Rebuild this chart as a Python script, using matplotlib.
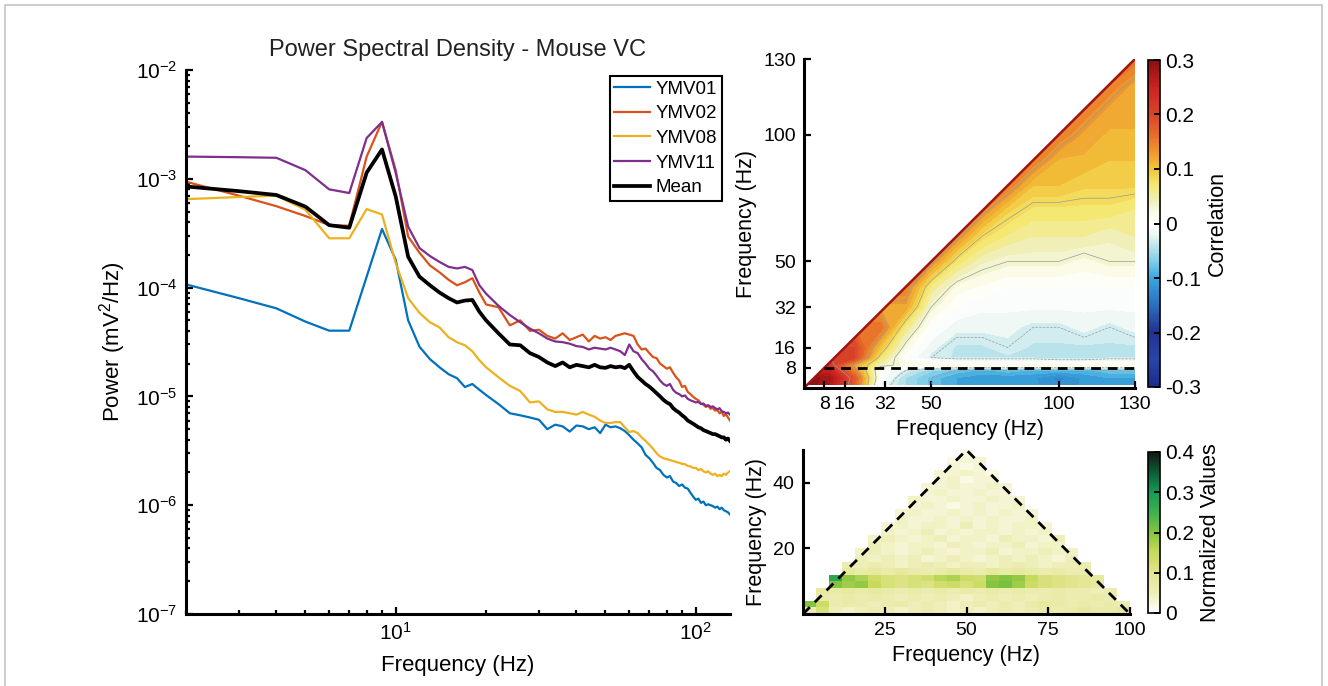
import numpy as np
import matplotlib
matplotlib.use("Agg")
import matplotlib.pyplot as plt
from matplotlib.colors import LinearSegmentedColormap, Normalize
from matplotlib.cm import ScalarMappable
from matplotlib.patches import Polygon, Rectangle

plt.rcParams['font.family'] = ['Liberation Sans', 'DejaVu Sans']
plt.rcParams['mathtext.fontset'] = 'custom'
plt.rcParams['mathtext.rm'] = 'Liberation Sans'
plt.rcParams['mathtext.it'] = 'Liberation Sans:italic'
plt.rcParams['mathtext.default'] = 'regular'
plt.rcParams['axes.unicode_minus'] = False

# ---- PSD data, power in 1e-6 mV^2/Hz ----
freq = list(range(2, 21)) + list(range(22, 131, 2))
ymv01 = [107, 80, 64.5, 48.7, 40.2, 40.2, 126, 346, 180, 50, 28.6, 22, 18.5, 16, 14.7, 12.2, 13, 11.5, 10.3,
         8.5, 7.0, 6.7, 6.4, 6.1, 5.0, 5.5, 5.3, 4.75, 5.4,
         5.3, 5.0, 5.2, 4.6, 5.5, 5.2, 5.3, 5.1, 4.8, 4.4,
         4.0, 3.7, 3.4, 2.9, 2.7, 2.45, 2.2, 2.1, 1.9, 1.8,
         1.85, 1.65, 1.6, 1.5, 1.55, 1.45, 1.42, 1.3, 1.2, 1.12,
         1.15, 1.05, 1.08, 1.0, 1.02, 1.0, 0.98, 0.95, 0.97, 0.92,
         0.95, 0.9, 0.88, 0.86, 0.82]
ymv02 = [940, 700, 560, 455, 376, 370, 1600, 3340, 1200, 294, 209, 160, 138, 118, 105, 112, 122, 90, 70,
         66, 45, 50, 40, 41, 36, 34, 38, 33, 35,
         37, 32, 36, 34, 35, 33, 36, 37, 38, 37,
         36, 30, 27, 27.5, 25, 23, 22.5, 20, 19, 18,
         18.5, 16.5, 15, 14, 12.2, 12.5, 11, 10.5, 9.9, 9.5,
         9.2, 8.6, 8.4, 8.0, 8.2, 7.7, 7.8, 7.4, 7.5, 7.0,
         7.2, 6.6, 6.9, 6.4, 6.0]
ymv08 = [650, 680, 700, 520, 284, 284, 527, 470, 168, 80, 58.5, 48, 43, 35, 31.5, 29.5, 26, 21.5, 18.5,
         15, 12.5, 11.2, 8.8, 9.0, 7.6, 7.2, 7.2, 7.0, 6.8,
         7.2, 6.8, 6.5, 6.0, 5.7, 5.7, 5.8, 5.8, 5.2, 4.7,
         4.8, 4.6, 4.2, 3.9, 3.6, 3.3, 3.0, 2.8, 2.7, 2.65,
         2.6, 2.55, 2.5, 2.45, 2.4, 2.38, 2.3, 2.27, 2.2, 2.2,
         2.1, 2.15, 2.05, 2.0, 2.05, 1.95, 1.9, 1.95, 1.85, 1.9,
         1.85, 1.95, 1.9, 2.0, 2.05]
ymv11 = [1600, 1580, 1560, 1200, 800, 740, 2370, 3330, 1130, 363, 231, 195, 172, 155, 150, 155, 145, 105, 88,
         68, 56, 48, 42, 38, 34, 32, 31.5, 30.5, 29,
         28.5, 27, 28, 27.5, 27, 28, 27, 26, 24, 30,
         26, 25, 22, 20, 18, 17, 15.5, 14, 13, 12.5,
         13, 11.5, 10.8, 10.5, 10, 10.2, 9.5, 9.2, 9.0, 8.8,
         8.9, 8.5, 8.6, 8.2, 8.3, 8.0, 8.1, 7.8, 7.6, 7.8,
         7.3, 7.2, 7.0, 7.1, 6.8]
mean_psd = [850, 770, 710, 555, 375, 355, 1140, 1860, 686, 192, 126, 105, 90, 80, 73, 76, 77, 60, 50,
            38, 30, 29.5, 25, 23, 20.5, 19, 20.5, 18.5, 19.5,
            19, 18.5, 19.5, 18.5, 18.3, 19, 18.5, 18.8, 18.2, 19.5,
            17, 15.1, 14, 13, 12.3, 11.5, 10.7, 10, 9.3, 8.8,
            8.5, 7.8, 7.4, 7.1, 6.7, 6.4, 6.0, 5.8, 5.6, 5.4,
            5.2, 5.1, 4.9, 4.8, 4.7, 4.6, 4.5, 4.5, 4.4, 4.3,
            4.2, 4.2, 4.0, 4.1, 3.9]
series_names = ['YMV01', 'YMV02', 'YMV08', 'YMV11', 'Mean']

# ---- cross-frequency correlation (hundredths), '.' = above diagonal ----
corr_x = [0, 10, 20, 30, 40, 50, 60, 70, 80, 90, 100, 110, 120, 130]
corr_y = [0, 4, 7, 9, 12, 16, 24, 32, 40, 50, 60, 70, 80, 90, 100, 110, 120, 130]
corr_rows = [
    "30 27 17 -2 -5 -8 -10 -11 -10 -11 -12 -11 -10 -10",
    "30 28 18 0 -5 -8 -10 -11 -11 -11 -13 -11 -10 -10",
    ". 25 14 0 -3 -6 -8 -9 -8 -9 -9 -9 -8 -8",
    ". 22 12 4 2 2 2 2 2 2 2 2 2 2",
    ". . 20 7 0 -3 -4 -4 -4 -4 -5 -5 -4 -4",
    ". . 20 10 2 -2 -4 -4 -3 -4 -4 -4 -4 -4",
    ". . . 16 6 0 -2 -2 -2 -3 -3 -2 -3 -2",
    ". . . . 12 3 0 -1 -1 -1 -1 -1 -1 -1",
    ". . . . 15 6 2 1 0 0 0 0 0 0",
    ". . . . . 14 7 4 3 3 3 2 3 3",
    ". . . . . . 14 8 6 5 5 5 4 5",
    ". . . . . . . 14 9 7 7 7 7 6",
    ". . . . . . . . 15 10 10 9 9 9",
    ". . . . . . . . . 15 11 11 10 10",
    ". . . . . . . . . . 15 12 11 11",
    ". . . . . . . . . . . 15 12 12",
    ". . . . . . . . . . . . 15 12",
    ". . . . . . . . . . . . . 16",
]
corr_lo, corr_hi = 1, 130
corr_ticks = [8, 16, 32, 50, 100, 130]
band_edge = 8

# ---- normalized values (hundredths), 4 Hz x 2 Hz cells, '.' = empty ----
norm_x_edges = list(range(0, 101, 4))
norm_y_edges = list(range(0, 51, 2))
norm_rows = [
    "6 12 5 4 5 6 5 4 5 6 5 4 5 4 5 6 5 6 7 6 7 8 7 7 8",
    "20 14 6 7 6 5 6 7 5 6 5 4 5 6 5 6 5 7 8 7 6 7 6 7 6",
    ". 7 6 7 6 7 6 5 6 5 6 5 4 5 6 5 6 5 6 7 6 6 7 6 .",
    ". 8 7 8 7 8 7 6 7 6 7 6 7 6 7 6 7 6 6 7 6 6 5 6 .",
    ". . 20 18 19 15 12 11 12 11 13 14 12 14 20 21 18 14 12 11 10 9 8 . .",
    ". . 27 19 17 14 12 11 12 13 16 17 14 13 19 20 19 15 12 11 10 9 8 . .",
    ". . . 8 7 8 7 8 7 6 7 8 7 6 8 7 8 7 6 7 6 6 . . .",
    ". . . 6 5 6 5 4 5 6 5 4 5 5 4 5 6 5 4 5 5 6 . . .",
    ". . . . 5 4 5 4 5 3 4 5 4 3 4 5 4 5 4 3 5 . . . .",
    ". . . . 4 5 4 3 4 5 4 3 4 4 5 3 4 4 5 4 4 . . . .",
    ". . . . . 5 4 3 4 4 3 5 4 3 4 4 5 3 4 4 . . . . .",
    ". . . . . 4 5 4 3 4 5 3 4 4 3 5 4 4 3 5 . . . . .",
    ". . . . . . 4 3 4 5 3 4 3 4 4 3 4 3 4 . . . . . .",
    ". . . . . . 3 4 3 4 4 3 5 3 4 3 4 4 3 . . . . . .",
    ". . . . . . . 4 3 3 4 3 4 3 4 3 3 4 . . . . . . .",
    ". . . . . . . 3 4 3 3 4 3 4 3 4 3 3 . . . . . . .",
    ". . . . . . . . 3 4 3 2 3 4 3 3 4 . . . . . . . .",
    ". . . . . . . . 4 3 3 4 3 3 4 3 3 . . . . . . . .",
    ". . . . . . . . . 3 4 3 3 4 3 3 . . . . . . . . .",
    ". . . . . . . . . 3 3 4 3 3 4 3 . . . . . . . . .",
    ". . . . . . . . . . 3 4 2 3 3 . . . . . . . . . .",
    ". . . . . . . . . . 3 3 4 3 2 . . . . . . . . . .",
    ". . . . . . . . . . . 3 2 3 . . . . . . . . . . .",
    ". . . . . . . . . . . 2 3 3 . . . . . . . . . . .",
    ". . . . . . . . . . . . 2 . . . . . . . . . . . .",
]
norm_outline_x = [0, 50, 100]
norm_outline_y = [0, 50, 0]


def parse(rows):
    return np.array([[np.nan if t == '.' else float(t) for t in r.split()] for r in rows]) / 100


corr = parse(corr_rows)
for row in corr:
    first = row[~np.isnan(row)][0]
    row[np.isnan(row)] = first
norm_vals = np.ma.masked_invalid(parse(norm_rows))

corr_cmap = LinearSegmentedColormap.from_list('corr', [
    (0.000, '#1c2a8c'), (0.083, '#2645a8'), (0.167, '#23318f'), (0.250, '#2b6fc0'),
    (0.333, '#3aa6dc'), (0.383, '#7fcde8'), (0.433, '#bfe6ea'), (0.467, '#eef7f5'),
    (0.500, '#ffffff'), (0.533, '#fbfbe8'), (0.567, '#eef0c0'), (0.617, '#f5e870'),
    (0.667, '#f2c53a'), (0.717, '#ee9a2e'), (0.767, '#e8702a'), (0.833, '#d9462a'),
    (0.917, '#cc2222'), (1.000, '#8a1010')])
green_cmap = LinearSegmentedColormap.from_list('greens', [
    (0.0, '#ffffff'), (0.125, '#eeeeb8'), (0.25, '#e2e58e'), (0.375, '#c6da5a'),
    (0.5, '#86c43f'), (0.625, '#3db24f'), (0.75, '#159a55'), (0.875, '#0d5c38'),
    (1.0, '#111a14')])

W, H = 1328, 686
fig = plt.figure(figsize=(W / 100, H / 100), dpi=100)


def px_axes(x0, y0, x1, y1):
    return fig.add_axes([x0 / W, 1 - y1 / H, (x1 - x0) / W, (y1 - y0) / H])


def matlab_style(ax, size):
    for s in ['top', 'right']:
        ax.spines[s].set_visible(False)
    for s in ['left', 'bottom']:
        ax.spines[s].set_linewidth(2.2)
    ax.tick_params(which='both', direction='in', width=1.6, labelsize=size, pad=6)
    ax.tick_params(which='major', length=5)
    ax.tick_params(which='minor', length=3)


# ---- PSD panel ----
ax1 = px_axes(186, 70, 730, 614)
colors = ['#0072BD', '#D95319', '#EDB120', '#7E2F8E', 'black']
widths = [1.6, 1.6, 1.6, 1.6, 2.7]
for vals, name, c, lw in zip([ymv01, ymv02, ymv08, ymv11, mean_psd], series_names, colors, widths):
    ax1.plot(freq, np.array(vals) * 1e-6, color=c, lw=lw, label=name)
ax1.set_xscale('log')
ax1.set_yscale('log')
ax1.set_xlim(2, 130)
ax1.set_ylim(1e-7, 1e-2)
matlab_style(ax1, 15)
ax1.set_xlabel('Frequency (Hz)', fontsize=16, labelpad=8)
ax1.set_ylabel('Power (mV$^2$/Hz)', fontsize=16, labelpad=6)
ax1.set_title('Power Spectral Density - Mouse VC', fontsize=17, pad=10, color='#222222')
leg = ax1.legend(loc='upper right', bbox_to_anchor=(0.985, 0.989), fontsize=13.5, fancybox=False,
                 edgecolor='black', framealpha=1, handlelength=1.9, handletextpad=0.3,
                 borderpad=0.25, labelspacing=0.4, borderaxespad=0)
leg.get_frame().set_linewidth(1.5)

# ---- correlation panel ----
ax2 = px_axes(804, 59, 1135, 388)
levels = np.linspace(-0.3, 0.3, 49)
cf = ax2.contourf(corr_x, corr_y, corr, levels=levels, cmap=corr_cmap)
cl = ax2.contour(corr_x, corr_y, corr, levels=[-0.08, -0.03, 0.03, 0.08, 0.13, 0.2],
                 colors='#9a9a9a', linewidths=0.5)
tri = Polygon([(corr_lo, corr_lo), (corr_hi, corr_lo), (corr_hi, corr_hi)], closed=True,
              transform=ax2.transData, facecolor='none', edgecolor='none')
ax2.add_patch(tri)
cf.set_clip_path(tri)
cl.set_clip_path(tri)
ax2.plot([corr_lo, corr_hi], [corr_lo, corr_hi], color='#a01414', lw=1.8)
ax2.plot([band_edge, corr_hi], [band_edge, band_edge], color='black', lw=2, ls=(0, (3.5, 2.5)))
ax2.set_xlim(0, 130)
ax2.set_ylim(0, 130)
ax2.set_xticks(corr_ticks)
ax2.set_yticks(corr_ticks)
matlab_style(ax2, 14)
ax2.set_xlabel('Frequency (Hz)', fontsize=15.5, labelpad=4)
ax2.set_ylabel('Frequency (Hz)', fontsize=15.5, labelpad=4)

cax1 = px_axes(1148, 60, 1160, 387)
cb1 = fig.colorbar(ScalarMappable(Normalize(-0.3, 0.3), corr_cmap), cax=cax1,
                   ticks=[-0.3, -0.2, -0.1, 0, 0.1, 0.2, 0.3])
cb1.set_ticklabels(['-0.3', '-0.2', '-0.1', '0', '0.1', '0.2', '0.3'])
cb1.outline.set_linewidth(1.2)
cax1.tick_params(direction='in', length=4, width=1.4, labelsize=15, pad=4)
cb1.set_label('Correlation', fontsize=15.5, labelpad=4)

# ---- normalized values panel ----
ax3 = px_axes(803, 450, 1130, 614)
ax3.pcolormesh(norm_x_edges, norm_y_edges, norm_vals, cmap=green_cmap, vmin=0, vmax=0.4)
ax3.plot(norm_outline_x, norm_outline_y, color='black', lw=2, ls=(0, (3.5, 2.5)))
ax3.set_xlim(0, 100)
ax3.set_ylim(0, 50)
ax3.set_xticks([25, 50, 75, 100])
ax3.set_yticks([20, 40])
matlab_style(ax3, 14)
ax3.set_xlabel('Frequency (Hz)', fontsize=15.5, labelpad=4)
ax3.set_ylabel('Frequency (Hz)', fontsize=15.5, labelpad=4)

cax2 = px_axes(1148, 452, 1160, 613)
cb2 = fig.colorbar(ScalarMappable(Normalize(0, 0.4), green_cmap), cax=cax2,
                   ticks=[0, 0.1, 0.2, 0.3, 0.4])
cb2.set_ticklabels(['0', '0.1', '0.2', '0.3', '0.4'])
cb2.outline.set_linewidth(1.2)
cax2.tick_params(direction='in', length=4, width=1.4, labelsize=15, pad=4)
cb2.set_label('Normalized Values', fontsize=15.5, labelpad=4)

fig.patches.append(Rectangle((5 / W, -0.02), (1322 - 5) / W, (H - 5) / H + 0.02,
                             transform=fig.transFigure, fill=False, edgecolor='#c4c4c4', lw=1.2))

fig.savefig('out.png', dpi=100)
